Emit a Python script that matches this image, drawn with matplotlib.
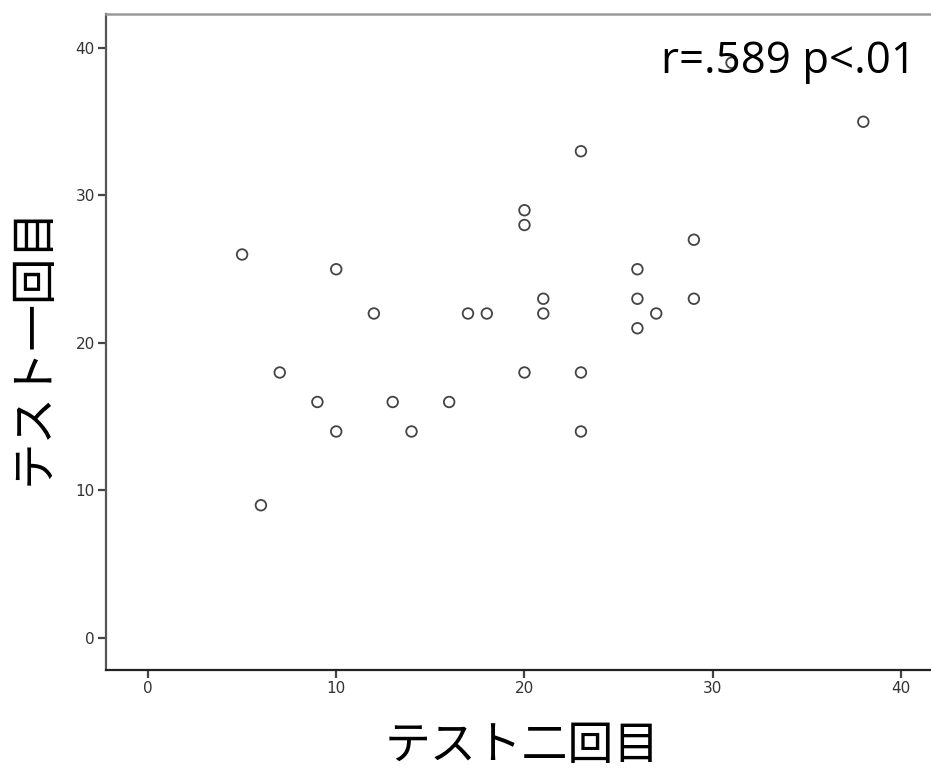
import matplotlib
matplotlib.use("Agg")
import matplotlib.pyplot as plt

x_test2 = [5, 6, 7, 9, 10, 10, 12, 13, 14, 16, 17, 18, 20, 20, 20, 21, 21, 23, 23, 23, 26, 26, 26, 27, 29, 29, 31, 38]
y_test1 = [26, 9, 18, 16, 25, 14, 22, 16, 14, 16, 22, 22, 29, 28, 18, 23, 22, 33, 18, 14, 25, 23, 21, 22, 27, 23, 39, 35]
ticks = [0, 10, 20, 30, 40]
xlabel = "テスト二回目"
ylabel = "テスト一回目"
annotation = "r=.589 p<.01"

W, H = 931, 769
fig = plt.figure(figsize=(W / 100, H / 100), dpi=100)
left_px, right_px, top_px, bottom_px = 106, 938.6, 14, 670
ax = fig.add_axes([left_px / W, (H - bottom_px) / H, (right_px - left_px) / W, (bottom_px - top_px) / H])

ax.scatter(x_test2, y_test1, s=58, facecolors="none", edgecolors="#444444", linewidths=1.3, zorder=2)

ax.set_xlim(-2.23, 42.0)
ax.set_ylim(-2.17, 42.305)
ax.set_xticks(ticks)
ax.set_yticks(ticks)
ax.tick_params(direction="out", length=6, width=1.6, colors="#444444", labelsize=11, labelcolor="#333333", pad=2)

for s in ["left", "bottom"]:
    ax.spines[s].set_linewidth(1.6)
ax.spines["left"].set_color("#555555")
ax.spines["bottom"].set_color("#222222")
ax.spines["top"].set_color("#999999")
ax.spines["top"].set_linewidth(1.8)
ax.spines["right"].set_visible(False)

cjk = ["Noto Sans CJK JP", "DejaVu Sans"]
fig.text(522 / W, 1 - 746 / H, xlabel, fontsize=33, family=cjk, ha="center", va="center")
fig.text(33 / W, 1 - 345 / H, ylabel, fontsize=33.5, family=cjk, ha="center", va="center", rotation=90)

fig.text(661 / W, 1 - 62 / H, annotation, fontsize=31.5, family=["Open Sans", "DejaVu Sans"], ha="left", va="center", zorder=5)

fig.savefig("out.png", dpi=100)
